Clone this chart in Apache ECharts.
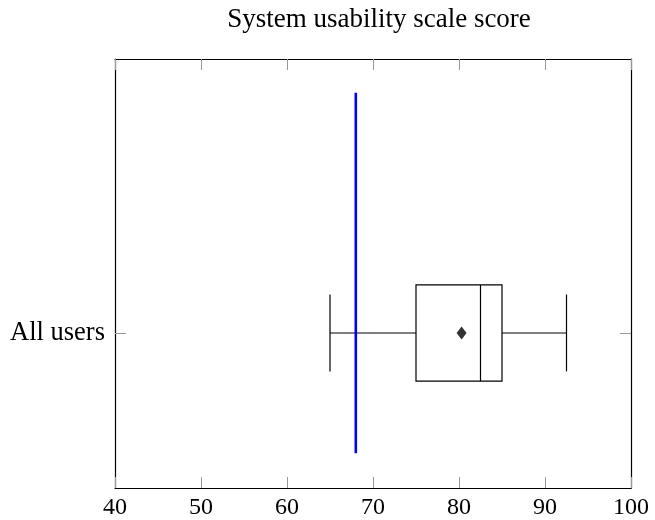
<!DOCTYPE html>
<html>
<head>
<meta charset="utf-8">
<script src="https://cdn.jsdelivr.net/npm/echarts@6/dist/echarts.min.js"></script>
<style>html,body{margin:0;padding:0;background:#fff;}#c{width:655px;height:520px;}</style>
</head>
<body>
<div id="c"></div>
<script>
var categories = ['All users'];
var lowWhisker = [65];
var q1 = [75];
var median = [82.5];
var q3 = [85];
var highWhisker = [92.5];
var means = [80.3];
var referenceScore = 68;
var referenceSpan = [0, 3];
var xTicks = [40, 50, 60, 70, 80, 90, 100];

var boxData = categories.map(function (c, i) {
  return [i + 1, lowWhisker[i], q1[i], median[i], q3[i], highWhisker[i]];
});
var meanData = categories.map(function (c, i) { return [means[i], i + 1]; });
var refData = referenceSpan.map(function (y) { return [referenceScore, y]; });

var chart = echarts.init(document.getElementById('c'), null, {renderer: 'canvas'});
var serif = '"Liberation Serif", "DejaVu Serif", serif';
var tickStyle = {show: true, inside: true, length: 11, lineStyle: {color: '#999', width: 1}};
var lineStyle = {show: true, onZero: false, lineStyle: {color: '#000', width: 1.2}};

chart.setOption({
  animation: false,
  title: {
    text: 'System usability scale score',
    left: 374, top: 1, textAlign: 'center',
    textStyle: {fontFamily: serif, fontWeight: 'normal', fontSize: 27, color: '#000'}
  },
  grid: {left: 115, right: 24, top: 59, bottom: 32},
  xAxis: [{
    type: 'value', min: xTicks[0], max: xTicks[xTicks.length - 1], interval: 10, position: 'bottom',
    axisLine: lineStyle, axisTick: tickStyle, splitLine: {show: false},
    axisLabel: {fontFamily: serif, fontSize: 24, color: '#000', margin: 8}
  }, {
    type: 'value', min: xTicks[0], max: xTicks[xTicks.length - 1], interval: 10, position: 'top',
    axisLine: lineStyle, axisTick: tickStyle, splitLine: {show: false},
    axisLabel: {show: false}
  }],
  yAxis: [{
    type: 'value', min: -0.29, max: 3.28, position: 'left',
    axisLine: lineStyle, splitLine: {show: false},
    axisTick: {show: true, inside: true, length: 11, lineStyle: {color: '#999', width: 1}, customValues: [1]},
    axisLabel: {show: true, customValues: [1], fontFamily: serif, fontSize: 26.5, color: '#000', margin: 10,
      formatter: function (v) { return categories[Math.round(v) - 1] || ''; }}
  }, {
    type: 'value', min: -0.29, max: 3.28, position: 'right',
    axisLine: lineStyle, splitLine: {show: false},
    axisTick: {show: true, inside: true, length: 11, lineStyle: {color: '#999', width: 1}, customValues: [1]},
    axisLabel: {show: false}
  }],
  series: [{
    type: 'custom',
    xAxisIndex: 0, yAxisIndex: 0,
    data: boxData,
    encode: {x: [1, 2, 3, 4, 5], y: 0},
    renderItem: function (params, api) {
      var y = api.value(0);
      var lo = api.coord([api.value(1), y]);
      var a = api.coord([api.value(2), y]);
      var m = api.coord([api.value(3), y]);
      var b = api.coord([api.value(4), y]);
      var hi = api.coord([api.value(5), y]);
      var half = api.size([0, 0.4])[1];
      var cap = api.size([0, 0.32])[1];
      var st = {stroke: '#000', lineWidth: 1.2, fill: null};
      return {type: 'group', children: [
        {type: 'line', shape: {x1: lo[0], y1: lo[1], x2: a[0], y2: a[1]}, style: st},
        {type: 'line', shape: {x1: b[0], y1: b[1], x2: hi[0], y2: hi[1]}, style: st},
        {type: 'line', shape: {x1: lo[0], y1: lo[1] - cap, x2: lo[0], y2: lo[1] + cap}, style: st},
        {type: 'line', shape: {x1: hi[0], y1: hi[1] - cap, x2: hi[0], y2: hi[1] + cap}, style: st},
        {type: 'rect', shape: {x: a[0], y: a[1] - half, width: b[0] - a[0], height: 2 * half}, style: {stroke: '#000', lineWidth: 1.2, fill: '#fff'}},
        {type: 'line', shape: {x1: m[0], y1: m[1] - half, x2: m[0], y2: m[1] + half}, style: st}
      ]};
    },
    z: 2
  }, {
    type: 'line',
    xAxisIndex: 0, yAxisIndex: 0,
    data: refData,
    symbol: 'none',
    lineStyle: {color: '#0000ff', width: 2.6},
    z: 3
  }, {
    type: 'scatter',
    xAxisIndex: 0, yAxisIndex: 0,
    data: meanData,
    symbol: 'diamond', symbolSize: [10, 13],
    itemStyle: {color: '#000'},
    z: 4
  }]
});
</script>
</body>
</html>
